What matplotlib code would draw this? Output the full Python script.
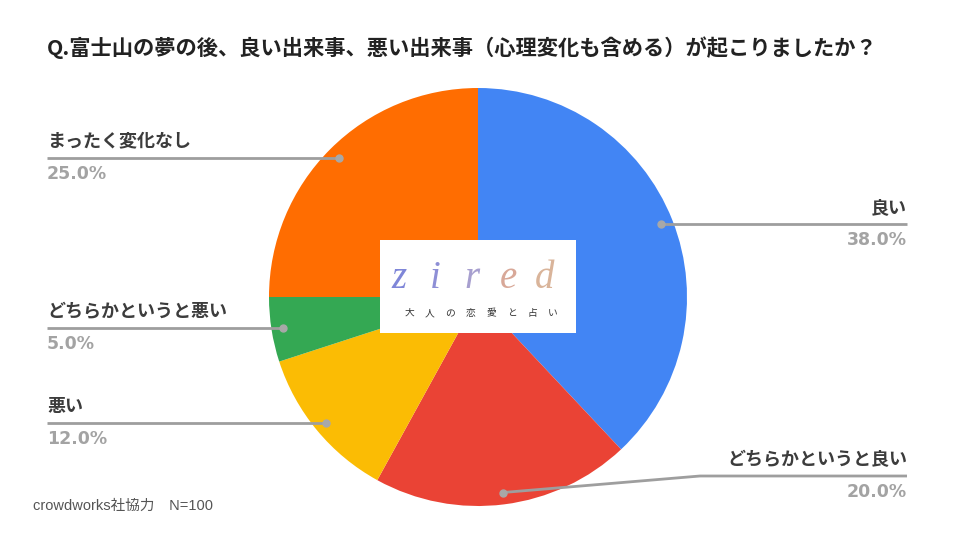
import numpy as np
import matplotlib
matplotlib.use("Agg")
import matplotlib.pyplot as plt
from matplotlib.patches import Rectangle

plt.rcParams['font.family'] = ['Noto Sans CJK JP', 'DejaVu Sans']

title = "Q.富士山の夢の後、良い出来事、悪い出来事（心理変化も含める）が起こりましたか？"
categories = ["良い", "どちらかというと良い", "悪い", "どちらかというと悪い", "まったく変化なし"]
values = [38.0, 20.0, 12.0, 5.0, 25.0]
colors = ["#4285F4", "#EA4335", "#FBBC04", "#34A853", "#FF6D01"]
footnote = "crowdworks社協力　N=100"

W, H = 960, 540
fig = plt.figure(figsize=(9.6, 5.4), dpi=100)
ax = fig.add_axes([0, 0, 1, 1])

cx, cy, R = 478, 540 - 297, 209
ax.pie(values, colors=colors, startangle=90, counterclock=False,
       center=(cx, cy), radius=R, frame=True,
       wedgeprops=dict(linewidth=0))
ax.set_xlim(0, W)
ax.set_ylim(0, H)
ax.set_aspect('equal')
ax.axis('off')

line_col = "#9e9e9e"
txt_col = "#3c3c3c"
pct_col = "#a3a3a3"

total = sum(values)
cum = 0
for cat, v in zip(categories, values):
    mid = (cum + v / 2) / total * 2 * np.pi
    cum += v
    dx, dy = cx + 0.943 * R * np.sin(mid), cy + 0.943 * R * np.cos(mid)
    ax.plot([dx], [dy], 'o', color="#a8a8a8", ms=5, zorder=5)
    right = np.sin(mid) > 0
    if right:
        ly = dy if dy > 200 else 540 - 476
        if abs(ly - dy) > 1:
            xs = [dx, 700, 907]
            ys = [dy, ly, ly]
        else:
            xs = [dx, 907]
            ys = [dy, dy]
        ax.plot(xs, ys, color=line_col, lw=2, zorder=4, solid_capstyle='butt')
        ax.text(907, ly + 7, cat, ha='right', va='bottom', fontsize=13,
                fontweight='bold', color=txt_col)
        ax.text(907, ly - 7, f"{v:.1f}%", ha='right', va='top', fontsize=12.5,
                fontweight='bold', color=pct_col, family=['DejaVu Sans'])
    else:
        ax.plot([47, dx], [dy, dy], color=line_col, lw=2, zorder=4, solid_capstyle='butt')
        ax.text(47, dy + 7, cat, ha='left', va='bottom', fontsize=13,
                fontweight='bold', color=txt_col)
        ax.text(47, dy - 7, f"{v:.1f}%", ha='left', va='top', fontsize=12.5,
                fontweight='bold', color=pct_col, family=['DejaVu Sans'])

# logo box
ax.add_patch(Rectangle((380, 540 - 333), 196, 93, facecolor='white', edgecolor='none', zorder=6))
letters = ["z", "i", "r", "e", "d"]
lcols = ["#7f86d8", "#8e8fd6", "#a79fcf", "#d8a898", "#d9b49a"]
for i, (l, c) in enumerate(zip(letters, lcols)):
    ax.text(399 + i * 36.5, 540 - 279, l, ha='center', va='center', fontsize=28,
            family=['Liberation Serif'], style='italic', color=c, zorder=7)
for i, ch in enumerate("大人の恋愛と占い"):
    ax.text(409 + i * 20.5, 540 - 313, ch, ha='center', va='center', fontsize=7,
            color='#333333', zorder=7)

ax.text(47, 540 - 48, title, ha='left', va='center', fontsize=15.3,
        fontweight='bold', color='#222222')
ax.text(33, 540 - 506, footnote, ha='left', va='center', fontsize=10.5,
        color='#555555', family=['Liberation Sans', 'Noto Sans CJK JP'])

fig.savefig("out.png", dpi=100)
